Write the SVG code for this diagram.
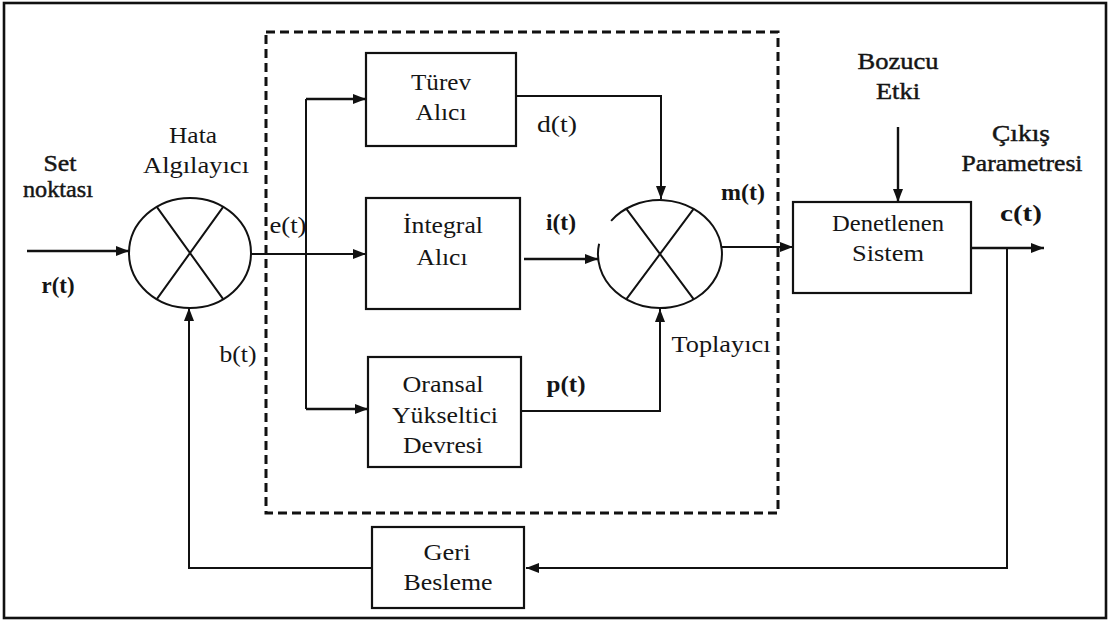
<svg xmlns="http://www.w3.org/2000/svg" width="1113" height="623" viewBox="0 0 1113 623" font-family="'Liberation Serif', 'DejaVu Serif', serif">
<style>
text{font-family:'Liberation Serif','DejaVu Serif',serif;font-size:23px;fill:#151515;text-anchor:middle}
.b{font-weight:bold}
.m{stroke:#151515;stroke-width:0.45}
.box{fill:#fff;stroke:#111;stroke-width:2.2}
.sum{fill:#fff;stroke:#111;stroke-width:2}
.ln{fill:none;stroke:#111;stroke-width:2}
.c{fill:none;stroke:#111;stroke-width:2.4}
</style>
<defs>
<marker id="ah" markerUnits="userSpaceOnUse" markerWidth="14" markerHeight="12" refX="13" refY="6" orient="auto">
<path d="M0,1 L13,6 L0,11 Z" fill="#111"/>
</marker>
</defs>
<rect x="0" y="0" width="1113" height="623" fill="#fff"/>
<rect id="frame" x="4" y="3" width="1102" height="615" fill="none" stroke="#111" stroke-width="2.6"/>
<rect id="controller" x="266" y="32" width="512" height="481" fill="none" stroke="#111" stroke-width="3" stroke-dasharray="9,5"/>

<g id="connectors">
<path class="c" d="M27,251 H129" marker-end="url(#ah)"/>
<path class="ln" d="M251,254 H366" marker-end="url(#ah)"/>
<path class="ln" d="M306,409 V99"/>
<path class="c" d="M306,99 H366" marker-end="url(#ah)"/>
<path class="c" d="M306,409 H368" marker-end="url(#ah)"/>
<path class="ln" d="M516,96 H661 V199" marker-end="url(#ah)"/>
<path class="c" d="M524,259 H598" marker-end="url(#ah)"/>
<path class="ln" d="M521,411 H660 V309" marker-end="url(#ah)"/>
<path class="ln" d="M722,247 H793" marker-end="url(#ah)"/>
<path class="c" d="M898,127 V202" marker-end="url(#ah)"/>
<path class="c" d="M971,248 H1044" marker-end="url(#ah)"/>
<path class="ln" d="M1007,248 V568 H526" marker-end="url(#ah)"/>
<path class="ln" d="M372,568 H189 V308" marker-end="url(#ah)"/>
</g>

<g id="hata">
<ellipse class="sum" cx="190" cy="253" rx="61" ry="55"/>
<path class="ln" d="M156.8,206.9 L223.2,299.1 M223.2,206.9 L156.8,299.1"/>
<text x="193" y="143" textLength="48" lengthAdjust="spacingAndGlyphs">Hata</text>
<text x="196" y="173" textLength="106" lengthAdjust="spacingAndGlyphs">Algılayıcı</text>
</g>

<g id="turev">
<rect class="box" x="366" y="53" width="150" height="93"/>
<text x="441" y="90" textLength="60" lengthAdjust="spacingAndGlyphs">Türev</text>
<text x="441" y="120" textLength="51" lengthAdjust="spacingAndGlyphs">Alıcı</text>
</g>

<g id="integral">
<rect class="box" x="366" y="198" width="154" height="111"/>
<text x="443" y="233" textLength="80" lengthAdjust="spacingAndGlyphs">İntegral</text>
<text x="442" y="265" textLength="51" lengthAdjust="spacingAndGlyphs">Alıcı</text>
</g>

<g id="oransal">
<rect class="box" x="368" y="357" width="153" height="110"/>
<text x="443" y="392" textLength="81" lengthAdjust="spacingAndGlyphs">Oransal</text>
<text x="445" y="423" textLength="106" lengthAdjust="spacingAndGlyphs">Yükseltici</text>
<text x="443" y="453" textLength="80" lengthAdjust="spacingAndGlyphs">Devresi</text>
</g>

<g id="toplayici">
<path class="ln" d="M599.1,243.7 A62,54 0 1 0 611.1,220.8"/>
<path class="ln" d="M626.2,208.7 L693.8,299.3 M693.8,208.7 L626.2,299.3"/>
<text x="721" y="352" textLength="99" lengthAdjust="spacingAndGlyphs">Toplayıcı</text>
</g>

<g id="denetlenen">
<rect class="box" x="793" y="202" width="178" height="91"/>
<text x="888" y="231" textLength="112" lengthAdjust="spacingAndGlyphs">Denetlenen</text>
<text x="888" y="261" textLength="72" lengthAdjust="spacingAndGlyphs">Sistem</text>
</g>

<g id="geri">
<rect class="box" x="372" y="527" width="152" height="81"/>
<text x="447" y="560" textLength="47" lengthAdjust="spacingAndGlyphs">Geri</text>
<text x="448" y="590" textLength="89" lengthAdjust="spacingAndGlyphs">Besleme</text>
</g>

<g id="labels">
<text class="m" x="60" y="171" textLength="33" lengthAdjust="spacingAndGlyphs">Set</text>
<text class="m" x="58" y="197" textLength="70" lengthAdjust="spacingAndGlyphs">noktası</text>
<text class="b" x="58" y="293" textLength="33" lengthAdjust="spacingAndGlyphs">r(t)</text>
<text x="288" y="233" textLength="37" lengthAdjust="spacingAndGlyphs">e(t)</text>
<text x="238" y="362" textLength="37" lengthAdjust="spacingAndGlyphs">b(t)</text>
<text x="557" y="132" textLength="40" lengthAdjust="spacingAndGlyphs">d(t)</text>
<text class="b" x="561" y="230" textLength="30" lengthAdjust="spacingAndGlyphs">i(t)</text>
<text class="b" x="566" y="392" textLength="39" lengthAdjust="spacingAndGlyphs">p(t)</text>
<text class="b" x="743" y="200" textLength="44" lengthAdjust="spacingAndGlyphs">m(t)</text>
<text class="m" x="898" y="69" textLength="81" lengthAdjust="spacingAndGlyphs">Bozucu</text>
<text class="m" x="898" y="99" textLength="44" lengthAdjust="spacingAndGlyphs">Etki</text>
<text class="m" x="1021" y="141" textLength="58" lengthAdjust="spacingAndGlyphs">Çıkış</text>
<text class="m" x="1022" y="171" textLength="121" lengthAdjust="spacingAndGlyphs">Parametresi</text>
<text class="b" x="1021" y="221" textLength="42" lengthAdjust="spacingAndGlyphs">c(t)</text>
</g>
</svg>
